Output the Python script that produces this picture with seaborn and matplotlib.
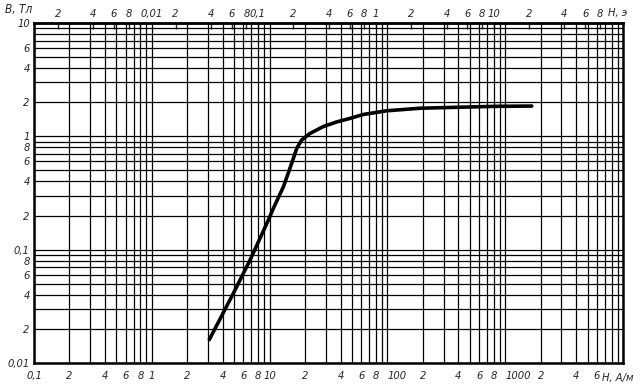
import matplotlib
matplotlib.use('Agg')
import matplotlib.pyplot as plt
from matplotlib.ticker import LogLocator, NullLocator, NullFormatter
import seaborn as sns
import pandas as pd

# Magnetisation curve
H_am = [3.08, 4.92, 6.82, 9.75, 10.75, 13.1, 15.4, 17.0, 18.7, 22.0, 28.6, 37.1,
        48.2, 62.5, 98.6, 189, 440, 847, 1680]
B_t = [0.0161, 0.0411, 0.0809, 0.182, 0.231, 0.359, 0.578, 0.784, 0.927, 1.06, 1.22, 1.34,
       1.44, 1.56, 1.68, 1.77, 1.81, 1.84, 1.85]

# Tick labels
h_ticks = [0.1, 0.2, 0.4, 0.6, 0.8, 1, 2, 4, 6, 8, 10, 20, 40, 60, 80,
           100, 200, 400, 600, 800, 1000, 2000, 4000, 6000]
h_labels = ['0,1', '2', '4', '6', '8', '1', '2', '4', '6', '8', '10', '2', '4', '6', '8',
            '100', '2', '4', '6', '8', '1000', '2', '4', '6']

b_ticks = [0.01, 0.02, 0.04, 0.06, 0.08, 0.1, 0.2, 0.4, 0.6, 0.8, 1, 2, 4, 6, 10]
b_labels = ['0,01', '2', '4', '6', '8', '0,1', '2', '4', '6', '8', '1', '2', '4', '6', '10']

oe_ticks = [0.002, 0.004, 0.006, 0.008, 0.01, 0.02, 0.04, 0.06, 0.08, 0.1,
            0.2, 0.4, 0.6, 0.8, 1, 2, 4, 6, 8, 10, 20, 40, 60, 80]
oe_labels = ['2', '4', '6', '8', '0,01', '2', '4', '6', '8', '0,1',
             '2', '4', '6', '8', '1', '2', '4', '6', '8', '10', '2', '4', '6', '8']

AM_PER_OE = 79.577

sns.set_style('white')
plt.rcParams['font.family'] = ['DejaVu Sans']
plt.rcParams['font.style'] = 'italic'
plt.rcParams['font.stretch'] = 'condensed'
plt.rcParams['font.size'] = 8

fig = plt.figure(figsize=(6.4, 3.92), dpi=100)
ax = fig.add_axes([34 / 640, 1 - 363 / 392, 589 / 640, 340 / 392])

df = pd.DataFrame({'H': H_am, 'B': B_t})
sns.lineplot(data=df, x='H', y='B', ax=ax, color='black', lw=2.6, sort=False)

ax.set_xscale('log')
ax.set_yscale('log')
ax.set_xlim(0.1, 10000)
ax.set_ylim(0.01, 10)

ax.set_xticks(h_ticks, labels=h_labels)
ax.set_yticks(b_ticks, labels=b_labels)
for axis in (ax.xaxis, ax.yaxis):
    axis.set_minor_locator(LogLocator(base=10, subs=range(1, 10), numticks=20))
    axis.set_minor_formatter(NullFormatter())
ax.tick_params(which='both', length=0)
ax.tick_params(axis='x', pad=6)
ax.tick_params(axis='y', pad=3)
ax.grid(which='both', color='black', lw=0.9)
ax.set_xlabel('')
ax.set_ylabel('')

# long labels sit to the right of their line, as in the original
for tick, lab in zip(ax.xaxis.get_major_ticks(), h_labels):
    if lab in ('100', '1000'):
        tick.label1.set_horizontalalignment('left')

for side, s in ax.spines.items():
    s.set_visible(True)
    s.set_color('black')
    s.set_linewidth(1.8)

# Oersted scale on top
sec = ax.secondary_xaxis('top', functions=(lambda h: h / AM_PER_OE, lambda oe: oe * AM_PER_OE))
sec.set_xticks(oe_ticks, labels=oe_labels)
sec.xaxis.set_minor_locator(NullLocator())
sec.tick_params(direction='in', length=4, width=1, pad=3)
sec.spines['top'].set_linewidth(1.8)
for tick, lab in zip(sec.xaxis.get_major_ticks(), oe_labels):
    if lab == '0,01':
        tick.label2.set_horizontalalignment('left')
        tick.label2.set_x(tick.label2.get_position()[0])

fig.text(5 / 640, 1 - 9 / 392, 'B, Тл', ha='left', va='center', fontsize=8.5)
fig.text(608 / 640, 1 - 13 / 392, 'H, э', ha='left', va='center')
fig.text(602 / 640, 1 - 378 / 392, 'H, A/м', ha='left', va='center')

fig.savefig('out.png', dpi=100)
